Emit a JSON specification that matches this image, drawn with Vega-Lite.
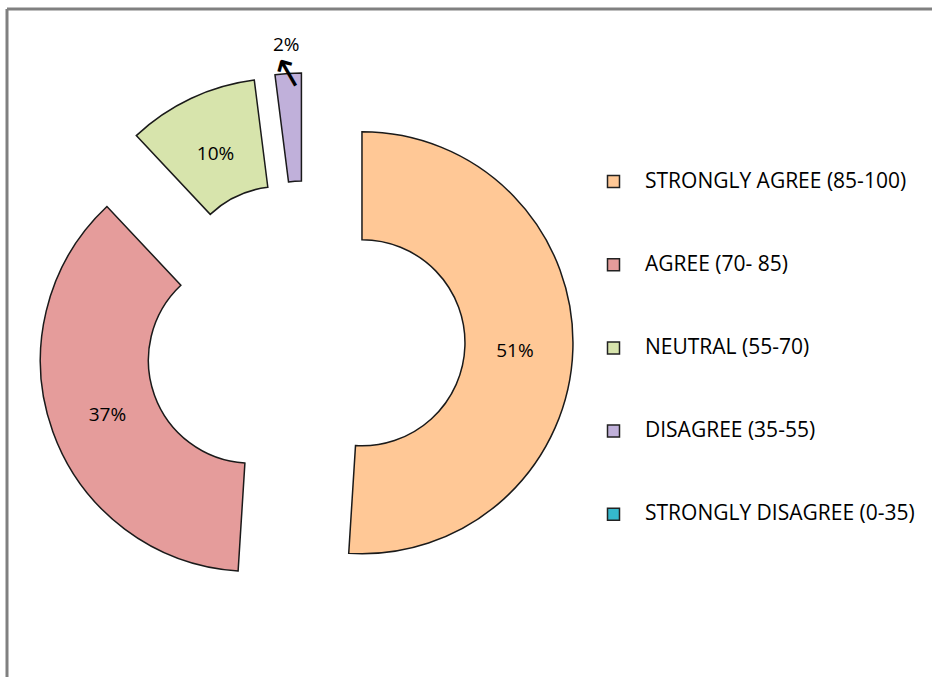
{
  "$schema": "https://vega.github.io/schema/vega-lite/v6.json",
  "width": 925,
  "height": 668,
  "autosize": {"type": "none"},
  "padding": {"left": 7, "top": 9, "right": 0, "bottom": 0},
  "background": "white",
  "view": {"stroke": "#808080", "strokeWidth": 3, "strokeDash": [925, 1593, 668, 0]},
  "config": {"font": "Open Sans"},
  "data": {
    "values": [
      {"category": "STRONGLY AGREE (85-100)", "value": 51, "rank": 1},
      {"category": "AGREE (70- 85)", "value": 37, "rank": 2},
      {"category": "NEUTRAL (55-70)", "value": 10, "rank": 3},
      {"category": "DISAGREE (35-55)", "value": 2, "rank": 4},
      {"category": "STRONGLY DISAGREE (0-35)", "value": 0, "rank": 5}
    ]
  },
  "encoding": {
    "theta": {"field": "value", "type": "quantitative", "stack": true},
    "order": {"field": "rank", "type": "quantitative"}
  },
  "layer": [
    {
      "transform": [{"filter": "datum.value > 0"}],
      "mark": {
        "type": "arc",
        "radius": 211,
        "innerRadius": 103,
        "stroke": "#1a1a1a",
        "strokeWidth": 1.5,
        "x": {"expr": "298 + 57*sin(PI*(datum.value_start+datum.value_end)/100)"},
        "y": {"expr": "332 - 57*cos(PI*(datum.value_start+datum.value_end)/100)"}
      },
      "encoding": {
        "color": {
          "field": "category",
          "type": "nominal",
          "scale": {
            "domain": ["STRONGLY AGREE (85-100)", "AGREE (70- 85)", "NEUTRAL (55-70)", "DISAGREE (35-55)", "STRONGLY DISAGREE (0-35)"],
            "range": ["#FFC896", "#E59C9B", "#D7E4AC", "#C0B0DA", "#35B8CC"]
          },
          "legend": {
            "title": null,
            "orient": "none",
            "legendX": 596,
            "legendY": 162,
            "symbolType": "square",
            "symbolSize": 144,
            "symbolStrokeColor": "#222222",
            "symbolStrokeWidth": 1.5,
            "labelFontSize": 21,
            "labelFont": "Open Sans",
            "labelColor": "#000000",
            "rowPadding": 61.2,
            "labelOffset": 21,
            "labelLimit": 400
          }
        }
      }
    },
    {
      "transform": [{"filter": "datum.value > 0"}],
      "mark": {
        "type": "text",
        "radius": {"expr": "datum.value < 5 ? 243 : 153"},
        "fontSize": 19,
        "font": "Open Sans",
        "color": "#000000",
        "dy": 3,
        "text": {"expr": "datum.value + '%'"},
        "x": {"expr": "298 + 57*sin(PI*(datum.value_start+datum.value_end)/100)"},
        "y": {"expr": "332 - 57*cos(PI*(datum.value_start+datum.value_end)/100)"}
      }
    },
    {
      "transform": [{"filter": "datum.value > 0"}],
      "mark": {
        "type": "text",
        "radius": 211,
        "fontSize": 40,
        "font": "DejaVu Sans",
        "color": "#000000",
        "angle": 15,
        "text": {"expr": "datum.value < 5 ? '↖' : ''"},
        "x": {"expr": "298 + 57*sin(PI*(datum.value_start+datum.value_end)/100)"},
        "y": {"expr": "332 - 57*cos(PI*(datum.value_start+datum.value_end)/100)"}
      }
    }
  ]
}
